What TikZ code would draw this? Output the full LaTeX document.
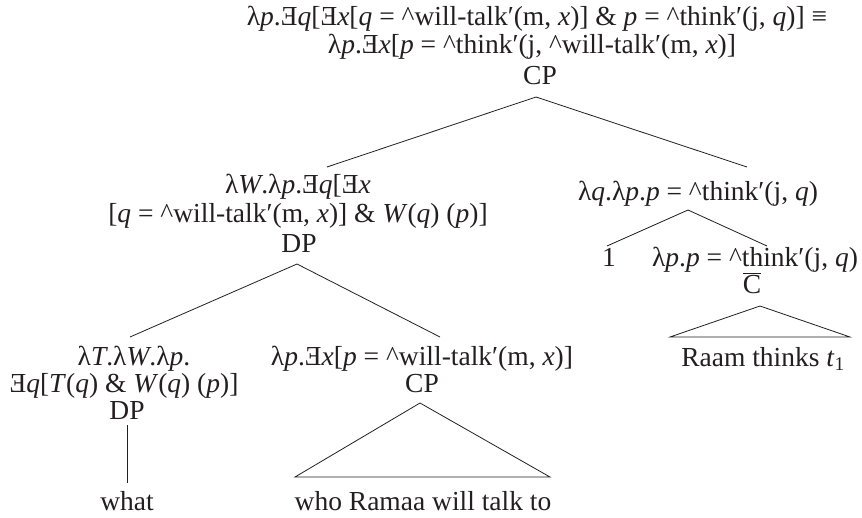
\documentclass[tikz,border=0pt]{standalone}
\usepackage{fontspec}
\usepackage{graphicx}
\setmainfont{Liberation Serif}
\newcommand{\Ex}{\reflectbox{E}}
\newcommand{\up}{\textasciicircum}
\newcommand{\vi}[1]{\textit{#1}}
\definecolor{ink}{HTML}{231F20}
\tikzset{
  lab/.style={anchor=base, inner sep=0pt, text=ink, font=\fontsize{27.5}{28}\selectfont},
  br/.style={draw=ink, line width=0.8pt}
}
\begin{document}
\begin{tikzpicture}[x=1pt,y=-1pt]
\useasboundingbox (0,0) rectangle (862,517);
% top
\node[lab] (l1) at (537,25) {λ\vi{p}.\Ex\vi{q}[\Ex\vi{x}[\vi{q} = \up will-talk′(m, \vi{x})] \& \vi{p} = \up think′(j, \vi{q})] ≡};
\node[lab] (l2) at (532,53) {λ\vi{p}.\Ex\vi{x}[\vi{p} = \up think′(j, \up will-talk′(m, \vi{x})]};
\node[lab] (cp) at (540,84) {CP};
\coordinate (cpA) at (536,97);
\coordinate (cpL) at (327,167);
\coordinate (cpR) at (747,167);
\draw[br] (cpL) -- (cpA) -- (cpR);
% left level 1
\node[lab] (a1) at (298,193) {λ\vi{W}.λ\vi{p}.\Ex\vi{q}[\Ex\vi{x}};
\node[lab] (a2) at (298,222) {[\vi{q} = \up will-talk′(m, \vi{x})] \& \vi{W}(\vi{q}) (\vi{p})]};
\node[lab] (dp1) at (299,252) {DP};
\coordinate (dpA) at (297,264);
\coordinate (dpL) at (130,337);
\coordinate (dpR) at (440,337);
\draw[br] (dpL) -- (dpA) -- (dpR);
% right level 1
\node[lab] (b1) at (698,200) {λ\vi{q}.λ\vi{p}.\vi{p} = \up think′(j, \vi{q})};
\coordinate (bA) at (688,210);
\coordinate (bL) at (607,246);
\coordinate (bR) at (767,246);
\draw[br] (bL) -- (bA) -- (bR);
\node[lab] (one) at (609,266) {1};
\node[lab] (b2) at (755,266) {λ\vi{p}.\vi{p} = \up think′(j, \vi{q})};
\node[lab] (cbar) at (752,293) {$\overline{\hbox{C}}$};
\coordinate (cA) at (760,306);
\coordinate (cL) at (670,337);
\coordinate (cR) at (850,337);
\draw[br] (cL) -- (cA) -- (cR) -- cycle;
\node[lab] (raam) at (763,366) {Raam thinks \vi{t}\textsubscript{1}};
% left level 2
\node[lab] (c1) at (134,365) {λ\vi{T}.λ\vi{W}.λ\vi{p}.};
\node[lab] (c2) at (124,392) {\Ex\vi{q}[\vi{T}(\vi{q}) \& \vi{W}(\vi{q}) (\vi{p})]};
\node[lab] (dp2) at (127,419) {DP};
\node[lab] (what) at (127,510) {what};
\coordinate (vT) at (127,425);
\coordinate (vB) at (127,483);
\draw[br] (vT) -- (vB);
% middle level 2
\node[lab] (d1) at (422,365) {λ\vi{p}.\Ex\vi{x}[\vi{p} = \up will-talk′(m, \vi{x})]};
\node[lab] (cp2) at (422,392) {CP};
\coordinate (mA) at (420,403);
\coordinate (mL) at (295,477);
\coordinate (mR) at (550,477);
\draw[br] (mL) -- (mA) -- (mR) -- cycle;
\node[lab] (who) at (423,510) {who Ramaa will talk to};
\end{tikzpicture}
\end{document}
